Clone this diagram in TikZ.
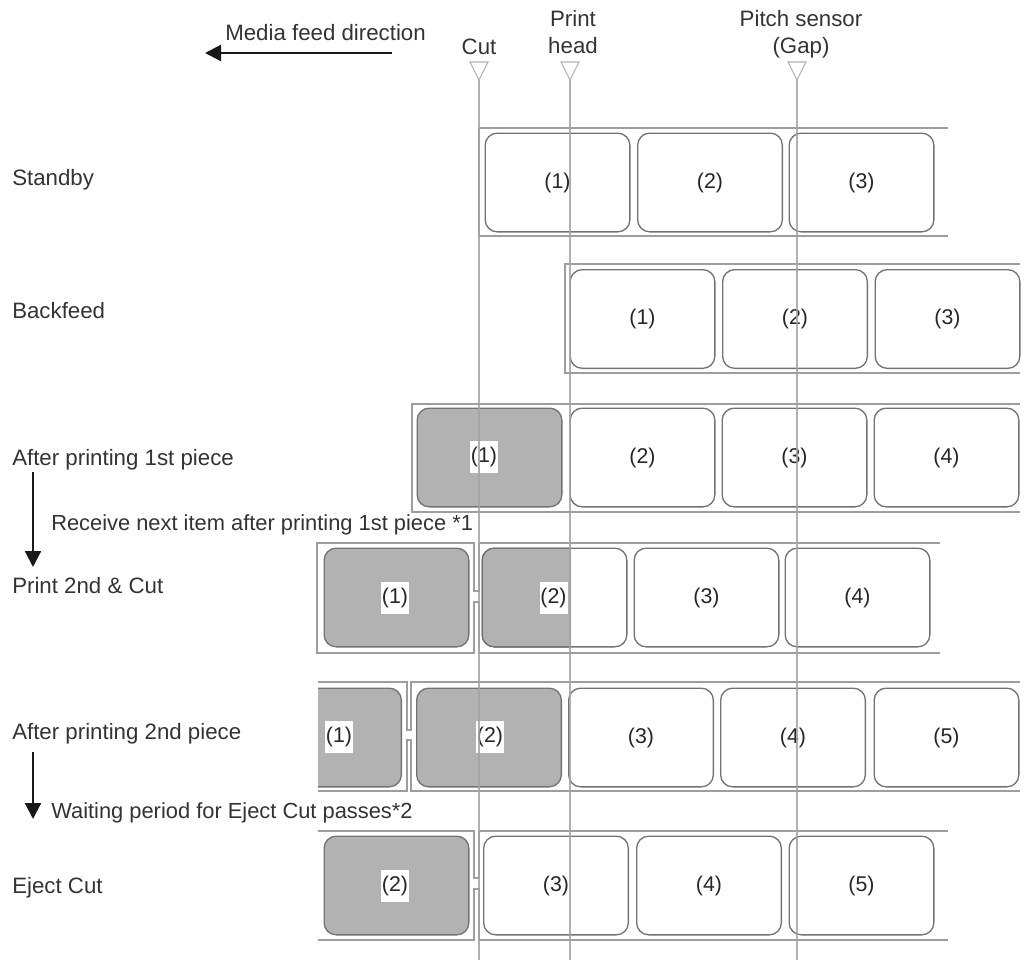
\documentclass[tikz,border=0pt]{standalone}
\usepackage{fontspec}
\setmainfont{Liberation Sans}
\usetikzlibrary{arrows.meta}
\tikzset{
  strip/.style={draw=black!38,line width=1.2pt},
  sensor/.style={draw=black!36,line width=0.8pt,draw opacity=0.85},
  cell/.style={draw=black!55,line width=1pt,rounded corners=9pt,minimum width=108.5pt,minimum height=74pt,inner sep=0pt,outer sep=0pt,text=black!85,font=\fontsize{16}{18}\selectfont},
  printed/.style={cell,fill=black!30},
  num/.style={fill=white,inner sep=0pt,minimum width=21pt,minimum height=24pt,text=black!85,font=\fontsize{16}{18}\selectfont},
  txt/.style={inner sep=0pt,text=black!80,font=\fontsize{16.7}{20}\selectfont},
  state/.style={txt,anchor=base west},
  note/.style={state,font=\fontsize{16.4}{20}\selectfont},
  feed/.style={-{Stealth[inset=0pt,length=12pt,width=12pt]},line width=1.6pt,black!90}
}
\begin{document}
\begin{tikzpicture}[x=0.75pt,y=-0.75pt]
\useasboundingbox (0,0) rectangle (1024,960);
% header
\node[state] (feedtext) at (225,40) {Media feed direction};
\coordinate (feedstart) at (392,53);
\coordinate (feedend) at (205,53);
\draw[feed] (feedstart) -- (feedend);
\node[txt,anchor=base] (cuttext) at (479,54) {Cut};
\node[txt,align=center,anchor=base] (headtext) at (573,53) {Print\\head};
\node[txt,align=center,anchor=base] (pitchtext) at (801,53) {Pitch sensor\\(Gap)};
% state names
\node[state] (standby) at (12,185) {Standby};
\node[state] (backfeed) at (12,318) {Backfeed};
\node[state] (first) at (12,465) {After printing 1st piece};
\node[note] (receive) at (51,530) {Receive next item after printing 1st piece *1};
\node[state] (second) at (12,593) {Print 2nd \& Cut};
\node[state] (afterp) at (12,739) {After printing 2nd piece};
\node[note] (waiting) at (51,818) {Waiting period for Eject Cut passes*2};
\node[state] (eject) at (12,893) {Eject Cut};
\coordinate (firsta) at (33,472);
\coordinate (firstb) at (33,567);
\coordinate (seconda) at (33,752);
\coordinate (secondb) at (33,819);
\draw[feed] (firsta) -- (firstb);
\draw[feed] (seconda) -- (secondb);
% Standby
\draw[strip] (948,128) -- (479,128) -- (479,236) -- (948,236);
\node[cell] (a1) at (557.5,182.5) {(1)};
\node[cell] (a2) at (710,182.5) {(2)};
\node[cell] (a3) at (861.5,182.5) {(3)};
% Backfeed
\draw[strip] (1020,264) -- (565,264) -- (565,373) -- (1020,373);
\node[cell] (b1) at (642.5,319) {(1)};
\node[cell] (b2) at (795,319) {(2)};
\node[cell] (b3) at (947.5,319) {(3)};
% After printing 1st piece
\draw[strip] (1020,404) -- (412,404) -- (412,512) -- (1020,512);
\node[printed] (c1) at (489.5,457.5) {};
\node[num] at (484,457) {(1)};
\node[cell] (c2) at (642.5,457.5) {(2)};
\node[cell] (c3) at (794.5,457.5) {(3)};
\node[cell] (c4) at (946.5,457.5) {(4)};
% Print 2nd & Cut
\draw[strip] (940,543) -- (479,543) -- (479,591) -- (474,591) -- (474,543) -- (317,543) -- (317,653) -- (474,653) -- (474,602) -- (479,602) -- (479,653) -- (940,653);
\node[printed] (d1) at (396.5,597.5) {};
\node[num] at (395,597.5) {(1)};
\node[cell] (d2) at (554.5,597.5) {};
\begin{scope}
\clip (470,540) rectangle (571,655);
\node[printed] at (d2) {};
\end{scope}
\node[num] at (553.5,597.5) {(2)};
\node[cell] (d3) at (706.5,597.5) {(3)};
\node[cell] (d4) at (857.5,597.5) {(4)};
% After printing 2nd piece
\draw[strip] (318,682) -- (407,682) -- (407,730) -- (411,730) -- (411,682) -- (1020,682);
\draw[strip] (318,791) -- (407,791) -- (407,740) -- (411,740) -- (411,791) -- (1020,791);
\begin{scope}
\clip (318,670) rectangle (420,800);
\node[printed] (e1) at (329,737.5) {};
\end{scope}
\node[num] at (339,736.5) {(1)};
\node[printed] (e2) at (489,737.5) {};
\node[num] at (490,736.5) {(2)};
\node[cell] (e3) at (641,737.5) {(3)};
\node[cell] (e4) at (793,737.5) {(4)};
\node[cell] (e5) at (946.5,737.5) {(5)};
% Eject Cut
\draw[strip] (318,831) -- (474,831) -- (474,878) -- (479,878) -- (479,831) -- (948,831);
\draw[strip] (318,940) -- (474,940) -- (474,889) -- (479,889) -- (479,940) -- (948,940);
\node[printed] (f2) at (396.5,885.5) {};
\node[num] at (395,885.5) {(2)};
\node[cell] (f3) at (556,885.5) {(3)};
\node[cell] (f4) at (709,885.5) {(4)};
\node[cell] (f5) at (861.5,885.5) {(5)};
% sensors
\foreach \name/\xpos in {cut/479,head/570,pitch/797}{
  \coordinate (\name top) at (\xpos,80);
  \coordinate (\name end) at (\xpos,960);
  \draw[sensor] (\name top) -- ++(-9,-18) -- ++(18,0) -- cycle;
  \draw[sensor] (\name top) -- (\name end);
}
\end{tikzpicture}
\end{document}
